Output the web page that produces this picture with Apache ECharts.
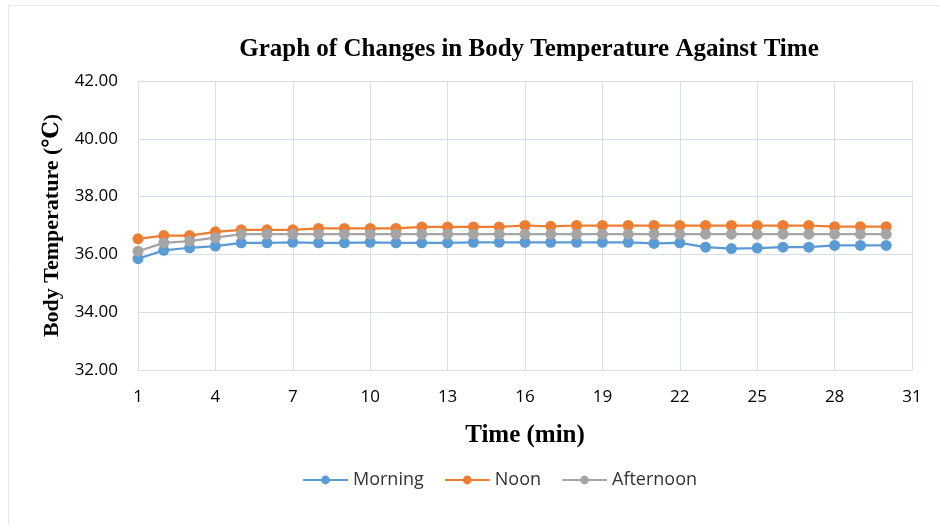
<!DOCTYPE html>
<html>
<head>
<meta charset="utf-8">
<script src="https://cdn.jsdelivr.net/npm/echarts@6/dist/echarts.min.js"></script>
<style>
  html, body { margin: 0; padding: 0; background: #fff; }
  #chart { width: 940px; height: 525px; }
</style>
</head>
<body>
<div id="chart"></div>
<script>
// x categories 1..31 (data runs to 30)
const minutes = Array.from({ length: 31 }, (_, i) => String(i + 1))
const morning = [35.85, 36.14, 36.23, 36.29, 36.4, 36.4, 36.42, 36.4, 36.4, 36.42, 36.4, 36.4, 36.4, 36.42, 36.42, 36.42,
  36.42, 36.42, 36.42, 36.42, 36.38, 36.4, 36.25, 36.2, 36.22, 36.25, 36.25, 36.31, 36.31, 36.31]
const noon = [36.54, 36.65, 36.65, 36.78, 36.85, 36.85, 36.85, 36.9, 36.9, 36.9, 36.9, 36.95, 36.95, 36.95, 36.95, 37.0,
  36.97, 37.0, 37.0, 37.0, 37.0, 37.0, 37.0, 37.0, 37.0, 37.0, 37.0, 36.96, 36.96, 36.96]
const afternoon = [36.11, 36.4, 36.46, 36.58, 36.7, 36.7, 36.7, 36.7, 36.7, 36.7, 36.7, 36.7, 36.7, 36.7, 36.7, 36.7,
  36.7, 36.7, 36.7, 36.7, 36.7, 36.7, 36.7, 36.7, 36.7, 36.7, 36.7, 36.7, 36.7, 36.7]

const serif = '"Liberation Serif", "DejaVu Serif", serif'
const sans = '"Open Sans", "Noto Sans", sans-serif'
const gridColor = '#d9dfe8'

const chart = echarts.init(document.getElementById('chart'))

function lineSeries(name, color, data) {
  return {
    name,
    type: 'line',
    data,
    symbol: 'circle',
    symbolSize: 11,
    lineStyle: { color, width: 2.25 },
    itemStyle: { color },
  }
}

const option = {
  backgroundColor: '#fff',
  animation: false,
  graphic: [
    {
      type: 'rect',
      shape: { x: 8.5, y: 5.5, width: 960, height: 560 },
      style: { fill: 'none', stroke: '#e6e9ee', lineWidth: 1 },
      silent: true,
    },
  ],
  title: {
    text: 'Graph of Changes in Body Temperature Against Time',
    left: 524,
    top: 32,
    textAlign: 'center',
    textStyle: { fontFamily: serif, fontSize: 25, fontWeight: 'bold', color: '#000' },
  },
  legend: {
    top: 466,
    left: 297,
    itemWidth: 45,
    itemHeight: 11,
    itemGap: 20,
    textStyle: { fontFamily: sans, fontSize: 18, color: '#333' },
    data: ['Morning', 'Noon', 'Afternoon'],
  },
  grid: { left: 138, right: 28, top: 81, bottom: 155, containLabel: false },
  xAxis: {
    type: 'category',
    data: minutes,
    boundaryGap: false,
    name: 'Time (min)',
    nameLocation: 'middle',
    nameGap: 53,
    nameTextStyle: { fontFamily: serif, fontSize: 25, fontWeight: 'bold', color: '#000' },
    axisLine: { lineStyle: { color: gridColor, width: 1 } },
    axisTick: { show: false },
    axisLabel: { interval: 2, margin: 19, fontFamily: sans, fontSize: 17, color: '#000' },
    splitLine: { show: true, interval: 2, lineStyle: { color: gridColor } },
  },
  yAxis: {
    type: 'value',
    min: 32,
    max: 42,
    interval: 2,
    name: 'Body Temperature (℃)',
    nameLocation: 'middle',
    nameGap: 74,
    nameTextStyle: { fontFamily: serif, fontSize: 22, fontWeight: 'bold', color: '#000' },
    axisLine: { show: false },
    axisTick: { show: false },
    axisLabel: { margin: 20, fontFamily: sans, fontSize: 17, color: '#000', formatter: (v) => v.toFixed(2) },
    splitLine: { lineStyle: { color: gridColor } },
  },
  series: [
    lineSeries('Morning', '#5b9bd5', morning),
    lineSeries('Noon', '#ed7d31', noon),
    lineSeries('Afternoon', '#a5a5a5', afternoon),
  ],
}

chart.setOption(option)
</script>
</body>
</html>
